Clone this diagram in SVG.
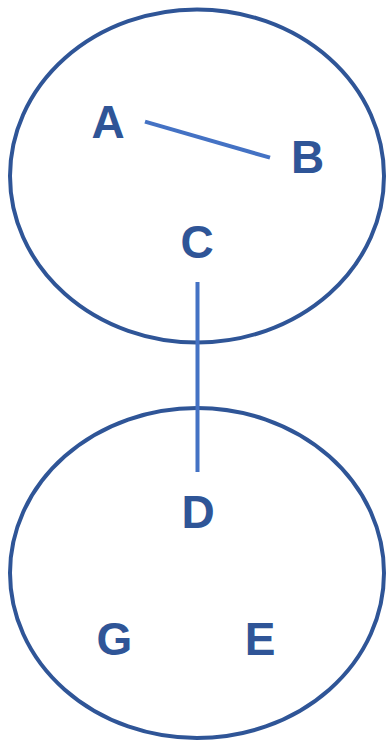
<svg xmlns="http://www.w3.org/2000/svg" width="387" height="741" viewBox="0 0 387 741">
<style>
.grp{fill:none;stroke:#2F5597;stroke-width:4}
.edge{stroke:#4472C4;stroke-width:4;fill:none}
.lbl{font-family:"Liberation Sans",Arial,sans-serif;font-weight:bold;font-size:46px;fill:#2F5597;text-anchor:middle}
</style>
<rect width="387" height="741" fill="#fff"/>
<g id="group-top"><ellipse class="grp" cx="197" cy="176" rx="187" ry="166.5"/></g>
<g id="group-bottom"><ellipse class="grp" cx="197" cy="573" rx="187" ry="165"/></g>
<g id="connectors">
<line class="edge" x1="145" y1="121.7" x2="270" y2="157.7"/>
<line class="edge" x1="197.5" y1="282" x2="197.5" y2="472"/>
</g>
<g id="node-A"><text class="lbl" x="108" y="138">A</text></g>
<g id="node-B"><text class="lbl" x="307.5" y="173">B</text></g>
<g id="node-C"><text class="lbl" x="197" y="258">C</text></g>
<g id="node-D"><text class="lbl" x="198" y="528">D</text></g>
<g id="node-G"><text class="lbl" x="114.5" y="655">G</text></g>
<g id="node-E"><text class="lbl" x="260" y="655">E</text></g>
</svg>
